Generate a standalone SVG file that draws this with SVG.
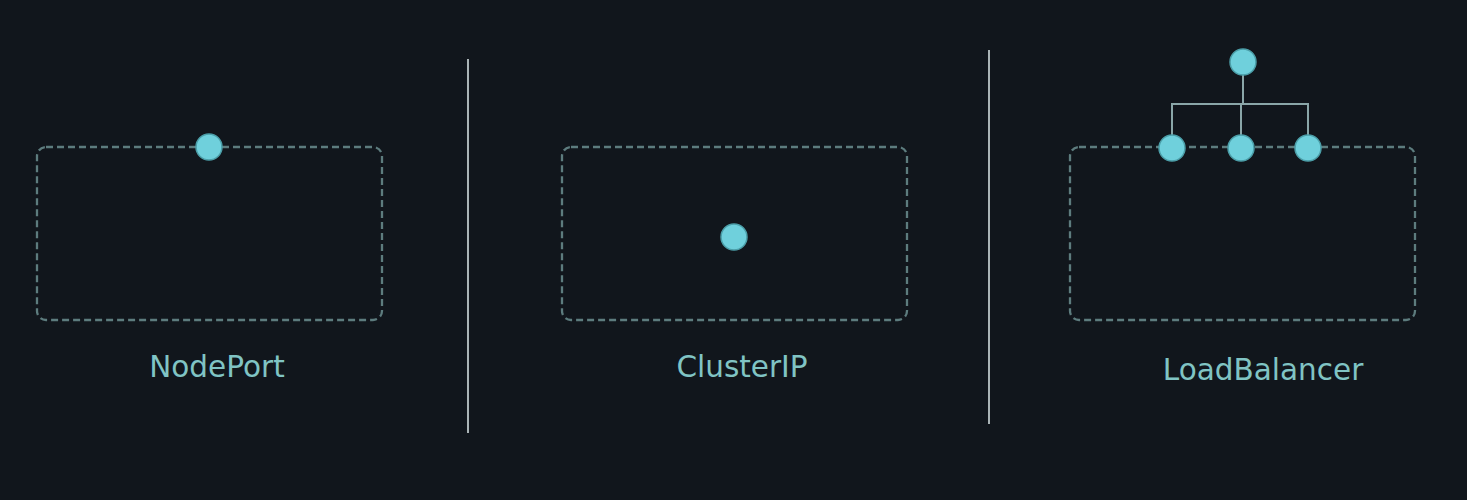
<svg xmlns="http://www.w3.org/2000/svg" width="1467" height="500" viewBox="0 0 1467 500">
<style>
.box{fill:none;stroke:#5d7c7e;stroke-width:2.3;stroke-dasharray:7 4}
.dot{fill:#6fd0dc;stroke:#4b9ea8;stroke-width:1.5}
.lbl{font-family:"DejaVu Sans",sans-serif;font-size:29.5px;fill:#80c4c4;text-anchor:middle}
.div{stroke:#aab4b6;stroke-width:2}
.con{fill:none;stroke:#8aa6a8;stroke-width:2}
</style>
<rect width="1467" height="500" fill="#11161c"/>
<g id="dividers">
<line class="div" x1="468" y1="59" x2="468" y2="433"/>
<line class="div" x1="989" y1="50" x2="989" y2="424"/>
</g>
<g id="connectors">
<path class="con" d="M1243 75V104M1172 148V104H1308V148M1241 104V148"/>
</g>
<g id="nodeport">
<rect class="box" x="37" y="147" width="345" height="173" rx="9"/>
<circle class="dot" cx="209" cy="147" r="13"/>
<text class="lbl" x="217" y="377">NodePort</text>
</g>
<g id="clusterip">
<rect class="box" x="562" y="147" width="345" height="173" rx="9"/>
<circle class="dot" cx="734" cy="237" r="13"/>
<text class="lbl" x="742" y="377">ClusterIP</text>
</g>
<g id="loadbalancer">
<rect class="box" x="1070" y="147" width="345" height="173" rx="9"/>
<circle class="dot" cx="1243" cy="62" r="13"/>
<circle class="dot" cx="1172" cy="148" r="13"/>
<circle class="dot" cx="1241" cy="148" r="13"/>
<circle class="dot" cx="1308" cy="148" r="13"/>
<text class="lbl" x="1263" y="380">LoadBalancer</text>
</g>
</svg>
